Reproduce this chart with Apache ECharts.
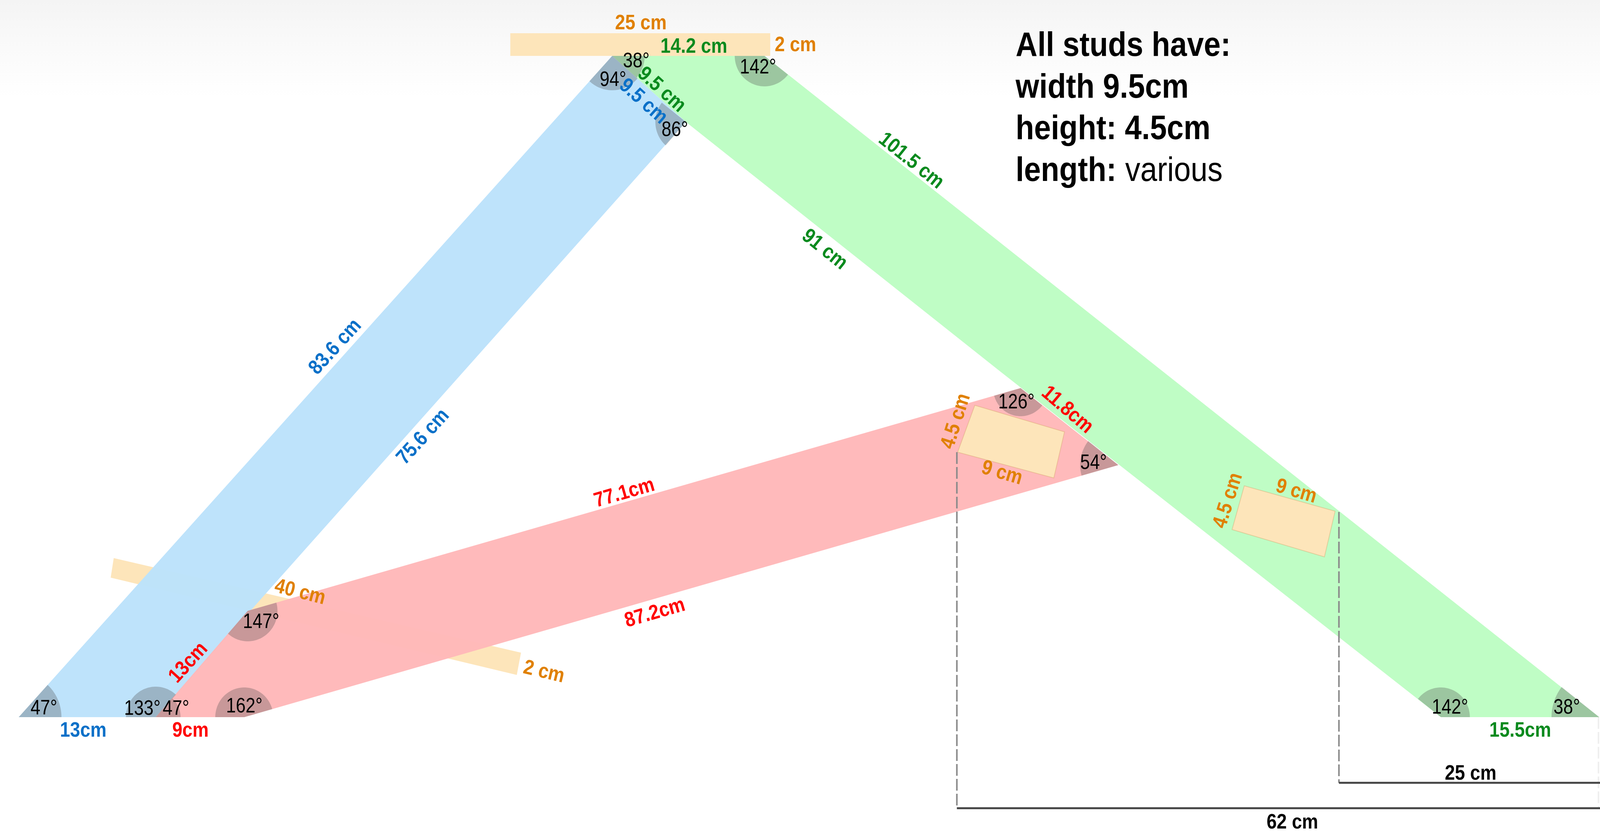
<!DOCTYPE html>
<html><head><meta charset="utf-8">
<style>html,body{margin:0;padding:0;background:#fff;overflow:hidden}#c{width:100vw;height:100vh}</style>
<script src="https://cdn.jsdelivr.net/npm/echarts@6/dist/echarts.min.js"></script>
</head><body><div id="c"></div>
<script>
// Drawing units: reference pixels (4192 x 2134), y growing downward.
const topShade = [[0,0],[4192,0],[4192,250],[0,250]];
const ridgeBar = [[1337,85],[2018,85],[2018,143],[1337,143]];
const crossBar = [[298,1428],[1365,1670],[1354,1727],[290,1478]];
const blueStud = [[49,1835],[1604,143],[1797,312],[408,1835]];
const redStud = [[408,1835],[649,1563],[2674,993],[2930,1190],[640,1835]];
const greenStud = [[1604,143],[2003,143],[4190,1835],[3775,1835],[2620,950],[1797,312]];
const notchRed = [[2554,1037],[2789,1105],[2761,1223],[2509,1157]];
const notchGreen = [[3260,1243],[3498,1308],[3470,1425],[3228,1355]];
// vertex x, vertex y, radius, start angle, end angle (deg, counter-clockwise)
const angleMarks = [
 [49,1835,112,0,47.4],[408,1835,78,47.4,180],[408,1835,65,0,47.4],[640,1835,76,15.7,180],
 [649,1563,78,-131.5,15.7],[2674,993,72,-164.3,-38],[2930,1190,100,142,195.7],
 [1604,143,85,-41,0],[1604,143,88,-132.6,-41],[1797,312,80,142,228.5],
 [2003,143,78,180,322],[3775,1835,76,0,142],[4190,1835,125,142,180]
];
const guide62 = [[2507,1157],[2507,2068]];
const guide25 = [[3508,1310],[3508,2003]];
const guideEdge = [[4188,1835],[4188,2068]];
const dim62 = [[2507,2068],[4192,2068]];
const dim25 = [[3508,2003],[4192,2003]];
// text, x, y, rotation (deg, clockwise on screen)
const orangeLabels = [["25 cm",1679,60,0],["2 cm",2084,116,0],["40 cm",786,1516,14],["2 cm",1425,1720,13],
 ["4.5 cm",2505,1078,-72],["9 cm",2625,1211,16],["4.5 cm",3218,1281,-72],["9 cm",3396,1258,16]];
const greenLabels = [["14.2 cm",1818,120,0],["9.5 cm",1733,230,41],["101.5 cm",2387,412,38],["91 cm",2160,639,38],["15.5cm",3983,1870,0]];
const blueLabels = [["83.6 cm",879,888,-47],["75.6 cm",1109,1118,-47],["9.5 cm",1685,260,41],["13cm",218,1870,0]];
const redLabels = [["77.1cm",1636,1262,-15.7],["87.2cm",1716,1569,-15.7],["11.8cm",2796,1049,40],["13cm",494,1696,-47],["9cm",499,1870,0]];
const angleLabels = [["38°",1667,157,0],["94°",1606,205,0],["86°",1768,333,0],["142°",1986,173,0],["47°",115,1813,0],
 ["133°",373,1814,0],["47°",461,1814,0],["162°",640,1808,0],["147°",684,1592,0],["126°",2663,1030,0],["54°",2865,1185,0],
 ["142°",3799,1811,0],["38°",4105,1811,0]];
const dimLabels = [["25 cm",3853,1980,0],["62 cm",3386,2105,0]];
const noteBold = [["All studs have:",2661,119],["width 9.5cm",2661,226],["height: 4.5cm",2661,332],["length:",2661,439]];
const noteRegular = [["various",2948,439]];

const FONT = '"Liberation Sans", Arial, sans-serif';
const chart = echarts.init(document.getElementById('c'),null,{renderer:'canvas'});
const KX = chart.getWidth()/4192; // the window may be narrower than the nominal width
function poly(pts, fill, z, stroke){
  return {type:'custom',coordinateSystem:'cartesian2d',z,silent:true,animation:false,clip:false,
    data:pts, encode:{x:0,y:1},
    renderItem(p,api){
      if(p.dataIndex!==0) return null;
      return {type:'polygon',shape:{points:pts.map(q=>api.coord(q))},
        style:stroke?{fill,stroke,lineWidth:2}:{fill}};
    }};
}
function line(pts,color,width,dash,z){
  return {type:'line',data:pts,z,symbol:'none',silent:true,animation:false,clip:false,
    lineStyle:{color,width,type:dash||'solid',cap:'butt'}};
}
function labels(list,color,size,weight,sx,align){
  return {type:'custom',coordinateSystem:'cartesian2d',z:20,silent:true,animation:false,clip:false,
    data:list.map(a=>({name:a[0],value:[a[1],a[2],a[3]||0]})), encode:{x:0,y:1},
    renderItem(p,api){
      const c=api.coord([api.value(0),api.value(1)]);
      const d=api.value(2)*Math.PI/180;
      const rot=Math.atan2(Math.sin(d),Math.cos(d)*KX);
      return {type:'text',x:c[0],y:c[1],rotation:-rot,scaleX:sx*KX,
        style:{text:list[p.dataIndex][0],x:0,y:0,fill:color,fontFamily:FONT,fontSize:size,fontWeight:weight,
          align:align||'center',verticalAlign:'middle'}};
    }};
}
const wedges = {type:'custom',coordinateSystem:'cartesian2d',z:10,silent:true,animation:false,clip:false,
  data:angleMarks, encode:{x:0,y:1},
  renderItem(p,api){
    const vx=api.value(0),vy=api.value(1),r=api.value(2),a0=api.value(3),a1=api.value(4);
    const pts=[api.coord([vx,vy])];
    for(let i=0;i<=48;i++){
      const a=(a0+(a1-a0)*i/48)*Math.PI/180;
      pts.push(api.coord([vx+r*Math.cos(a),vy-r*Math.sin(a)]));
    }
    return {type:'polygon',shape:{points:pts},style:{fill:'rgba(78,78,78,0.31)'}};
  }};
const ORANGE='#FDE5BA', EDGE='rgba(205,150,90,0.35)';
chart.setOption({
  animation:false,backgroundColor:'#fff',
  grid:{left:0,right:0,top:0,bottom:0},
  xAxis:{type:'value',min:0,max:4192,show:false},
  yAxis:{type:'value',min:0,max:2134,inverse:true,show:false},
  series:[
    poly(topShade,{type:'linear',x:0,y:0,x2:0,y2:1,colorStops:[{offset:0,color:'#F4F4F4'},{offset:.4,color:'#F9F9F9'},{offset:1,color:'#FFFFFF'}]},0),
    poly(ridgeBar,ORANGE,1),poly(crossBar,ORANGE,1),
    poly(greenStud,'rgb(191,253,197)',2),
    poly(blueStud,'rgba(188,226,251,0.97)',3),
    poly(redStud,'rgba(255,184,185,0.97)',4),
    wedges,
    poly(notchRed,ORANGE,11,EDGE),poly(notchGreen,ORANGE,11,EDGE),
    line(guide62,'#8a8a8a',4,[30,8],12),line(guide25,'#8a8a8a',4,[30,8],12),line(guideEdge,'#eeeeee',4,[30,8],12),
    line(dim62,'#444444',5,null,13),line(dim25,'#444444',5,null,13),
    labels(orangeLabels,'#E08000',53,'bold',.9),
    labels(greenLabels,'#0A8A1E',53,'bold',.9),
    labels(blueLabels,'#0A70C8',53,'bold',.9),
    labels(redLabels,'#FF0000',53,'bold',.9),
    labels(angleLabels,'#000000',53,'normal',.87),
    labels(dimLabels,'#000000',53,'bold',.9),
    labels(noteBold,'#000000',88,'bold',.9,'left'),
    labels(noteRegular,'#000000',88,'normal',.9,'left')
  ]
});
</script></body></html>
